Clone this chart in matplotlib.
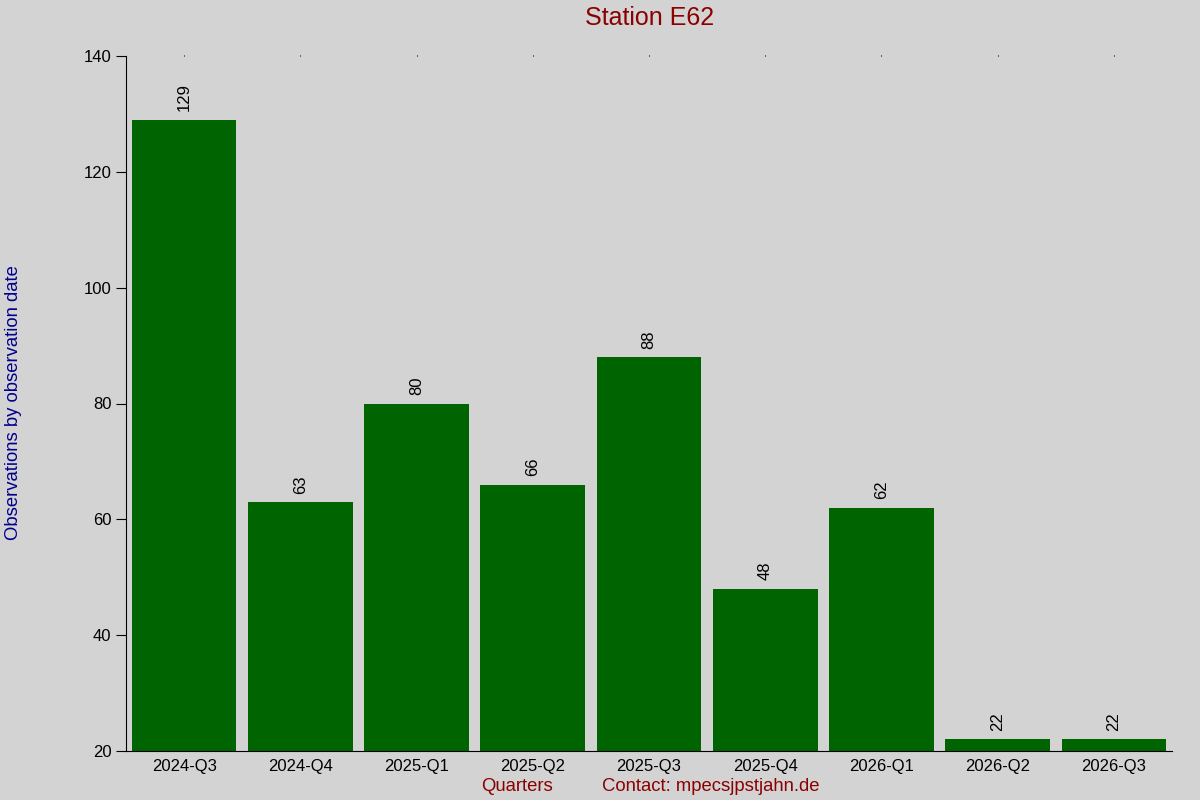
import matplotlib
matplotlib.use('Agg')
import matplotlib.pyplot as plt

# Daten
quarters = ['2024-Q3', '2024-Q4', '2025-Q1', '2025-Q2', '2025-Q3',
            '2025-Q4', '2026-Q1', '2026-Q2', '2026-Q3']
counts = [129, 63, 80, 66, 88, 48, 62, 22, 22]

plt.rcParams['font.family'] = ['Liberation Sans', 'DejaVu Sans']

fig = plt.figure(figsize=(12, 8), dpi=100, facecolor='#d3d3d3')
ax = fig.add_axes([0.105, 0.06125, 0.8717, 0.86875])
ax.set_facecolor('#d3d3d3')

x = range(len(quarters))
ax.bar(x, [c - 20 for c in counts], bottom=20, width=0.9, color='#006400')

# Werte über den Balken
for xi, c in zip(x, counts):
    ax.annotate(str(c), (xi, c), xytext=(0, 6), textcoords='offset points',
                rotation=90, ha='center', va='bottom', fontsize=12)

ax.set_xlim(-0.5, 8.5)
ax.set_ylim(20, 140)
ax.set_yticks(range(20, 141, 20))
ax.set_xticks(list(x))
ax.set_xticklabels(quarters, fontsize=12)
ax.tick_params(axis='y', labelsize=12, length=7, direction='out')
ax.tick_params(axis='x', length=1, pad=5, bottom=False, top=True)

for s in ['top', 'right']:
    ax.spines[s].set_visible(False)

fig.text(0.541, 0.977, 'Station E62', color='#8b0000', fontsize=18, ha='center', va='center')
fig.text(0.011, 0.497, 'Observations by observation date', color='#00008b', fontsize=13.3,
         rotation=90, ha='center', va='center')

fig.text(0.431, 0.0165, 'Quarters', color='#8b0000', fontsize=13.3, ha='center', va='center')
fig.text(0.592, 0.0165, 'Contact: mpecsjpstjahn.de', color='#8b0000', fontsize=13.3,
         ha='center', va='center')

fig.savefig('out.png', dpi=100, facecolor=fig.get_facecolor())
